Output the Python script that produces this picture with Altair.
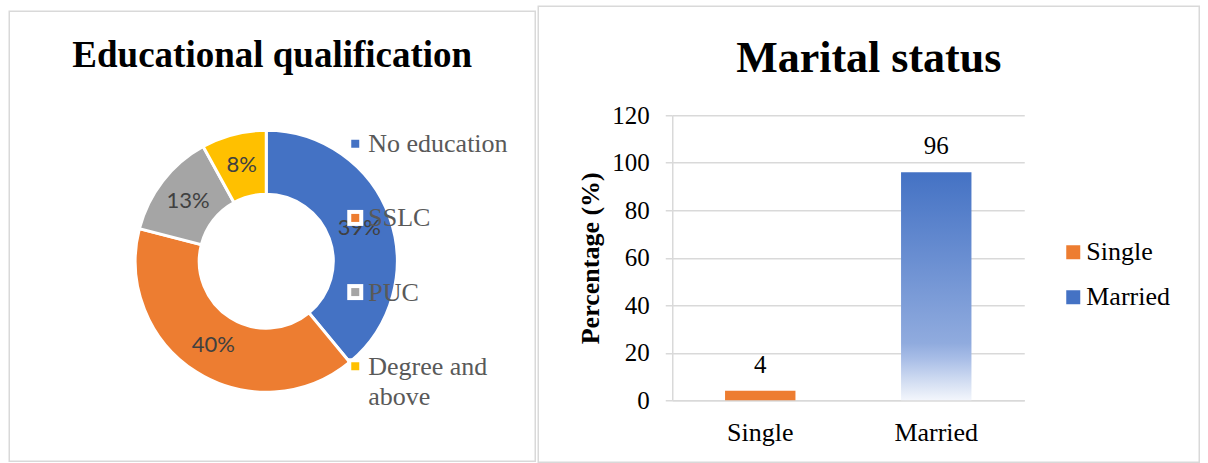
import altair as alt
import pandas as pd

# ---------------- data ----------------
edu_categories = ["No education", "SSLC", "PUC", "Degree and above"]
edu_values = [39, 40, 13, 8]
edu_legend_text = ["No education", "SSLC", "PUC", "Degree and\nabove"]
edu_colors = ["#4472C4", "#ED7D31", "#A5A5A5", "#FFC000"]

marital_categories = ["Single", "Married"]
marital_values = [4, 96]
marital_colors = ["#ED7D31", "#4472C4"]
y_ticks = [0, 20, 40, 60, 80, 100, 120]

SERIF = "Liberation Serif"
GRID = "#d9d9d9"

edu_df = pd.DataFrame({
    "edu": edu_categories,
    "value": edu_values,
    "order": list(range(len(edu_categories))),
    "legend": edu_legend_text,
    "pct": [f"{v}%" for v in edu_values],
})
mar_df = pd.DataFrame({
    "status": marital_categories,
    "value": marital_values,
    "label": [str(v) for v in marital_values],
})
one = pd.DataFrame({"d": [0]})

# ---------------- left: donut ----------------
color_edu = alt.Color("edu:N", scale=alt.Scale(domain=edu_categories, range=edu_colors), legend=None)
base = alt.Chart(edu_df)

panel_l = alt.Chart(one).mark_rect(fillOpacity=0, stroke=GRID, strokeWidth=1.5).encode(
    x=alt.value(0), x2=alt.value(526), y=alt.value(-104), y2=alt.value(346)
)
arc = base.mark_arc(innerRadius=67, outerRadius=131, stroke="white", strokeWidth=3).encode(
    theta=alt.Theta("value:Q", stack=True),
    order=alt.Order("order:Q"),
    color=color_edu,
    x=alt.value(257), y=alt.value(146),
)
pct = base.mark_text(radius=99, font="Lato", fontSize=22, color="#404040").encode(
    theta=alt.Theta("value:Q", stack=True),
    order=alt.Order("order:Q"),
    text="pct:N",
    x=alt.value(257), y=alt.value(146),
)
leg_y = alt.Y("edu:N", scale=alt.Scale(type="point", domain=edu_categories, range=[28.5, 251], padding=0), axis=None)
sq_bg = base.mark_square(size=256, color="white", opacity=1).encode(x=alt.value(346), y=leg_y)
sq = base.mark_square(size=64, opacity=1).encode(x=alt.value(346), y=leg_y, color=color_edu)
leg_txt = base.mark_text(align="left", baseline="alphabetic", dy=8.5, font=SERIF, fontSize=26,
                         color="#595959", lineBreak="\n", lineHeight=30).encode(
    x=alt.value(359), y=leg_y, text="legend:N"
)

left = alt.layer(panel_l, arc, pct, sq_bg, sq, leg_txt).properties(
    width=526, height=285,
    title=alt.TitleParams("Educational qualification", font=SERIF, fontSize=37, fontWeight="bold",
                          color="black", anchor="middle", frame="bounds", offset=0,
                          baseline="alphabetic", dy=93.5),
)

# ---------------- right: bars ----------------
x_enc = alt.X("status:N", scale=alt.Scale(domain=marital_categories, paddingInner=0.6, paddingOuter=0.3),
              axis=alt.Axis(title=None, labelAngle=0, labelFont=SERIF, labelFontSize=26, labelColor="black",
                            ticks=False, tickSize=0, labelPadding=19, domainColor=GRID, domainWidth=1.5))
y_enc = alt.Y("value:Q", scale=alt.Scale(domain=[0, 120]),
              axis=alt.Axis(values=y_ticks, title="Percentage (%)", titleFont=SERIF, titleFontSize=26,
                            titleFontWeight="bold", titleColor="black", titlePadding=8,
                            labelFont=SERIF, labelFontSize=25, labelColor="black", labelPadding=16,
                            tickSize=7, tickColor=GRID, tickWidth=1.5, domainColor=GRID, domainWidth=1.5,
                            gridColor=GRID, gridWidth=1.5))

panel_r = alt.Chart(one).mark_rect(fillOpacity=0, stroke=GRID, strokeWidth=1.5).encode(
    x=alt.value(-134), x2=alt.value(527), y=alt.value(-109), y2=alt.value(347)
)
bar_single = alt.Chart(mar_df).transform_filter(alt.datum.status == "Single").mark_bar().encode(
    x=x_enc, y=y_enc,
    color=alt.Color("status:N", scale=alt.Scale(domain=marital_categories, range=marital_colors),
                    legend=alt.Legend(title=None, orient="none", legendX=388, legendY=124,
                                      symbolType="square", symbolSize=196, symbolStrokeWidth=0,
                                      symbolOpacity=1,
                                      labelFont=SERIF, labelFontSize=26, labelColor="black",
                                      rowPadding=19, labelOffset=0, padding=0)),
)
grad = alt.Gradient(
    gradient="linear", x1=0, x2=0, y1=0, y2=1,
    stops=[
        alt.GradientStop(offset=0, color="#4472C4"),
        alt.GradientStop(offset=0.4, color="#6C90D2"),
        alt.GradientStop(offset=0.75, color="#90ABDE"),
        alt.GradientStop(offset=0.82, color="#A9BEE7"),
        alt.GradientStop(offset=0.92, color="#D3DEF2"),
        alt.GradientStop(offset=1, color="#F3F6FC"),
    ],
)
bar_married = alt.Chart(mar_df).transform_filter(alt.datum.status == "Married").mark_bar(fill=grad).encode(
    x=x_enc, y=y_enc
)
vals = alt.Chart(mar_df).mark_text(baseline="alphabetic", dy=-18, font=SERIF, fontSize=25, color="black").encode(
    x=x_enc, y=y_enc, text="label:N"
)

right = alt.layer(panel_r, bar_single, bar_married, vals).properties(
    width=352, height=285,
    title=alt.TitleParams("Marital status", font=SERIF, fontSize=44, fontWeight="bold",
                          color="black", anchor="middle", frame="bounds", offset=0,
                          baseline="alphabetic", dy=110),
)

chart = alt.hconcat(left, right, spacing=137, bounds="flush").resolve_scale(
    color="independent", x="independent", y="independent"
).resolve_legend(color="independent").configure(
    font=SERIF
).configure_axis(
    labelFont=SERIF
).configure_legend(
    labelFont=SERIF
).configure_text(
    font=SERIF
).configure_view(
    stroke="transparent"
).properties(
    padding={"left": 7.25, "top": 4.25, "right": 0, "bottom": 0},
    background="white",
)

chart.save("out.html", embed_options={"renderer": "svg", "actions": False})
